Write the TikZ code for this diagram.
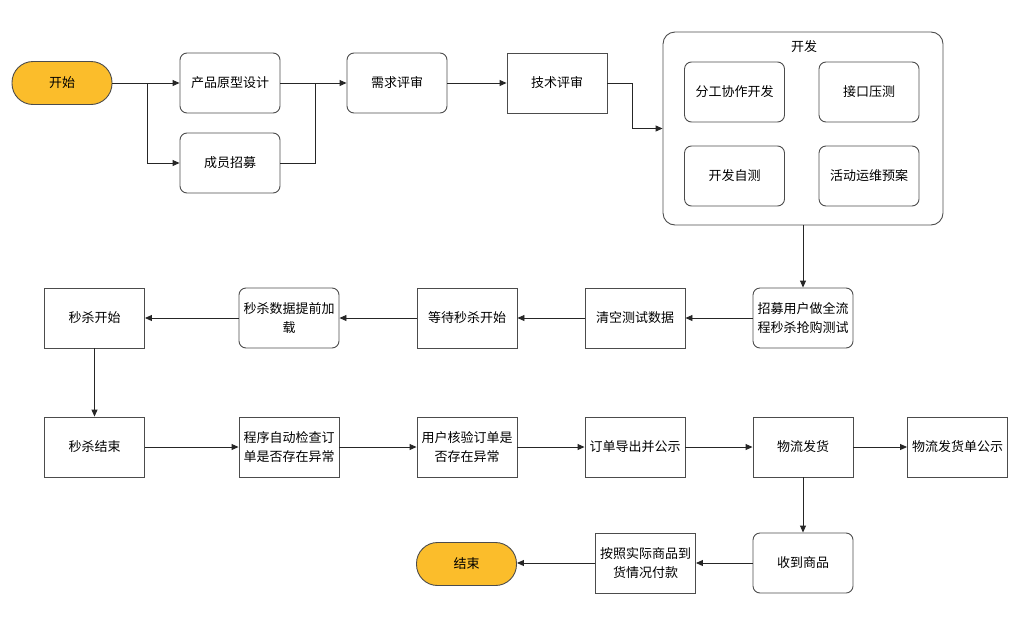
\documentclass[tikz,border=0pt]{standalone}
\usepackage{fontspec}
\setmainfont{Noto Sans CJK SC}
\usetikzlibrary{arrows.meta}

\definecolor{termfill}{HTML}{FBBD2B}
\tikzset{
  box/.style={draw=black!70,line width=0.9pt,minimum width=100pt,minimum height=60pt,
    inner sep=1pt,align=center,font=\fontsize{13}{19}\selectfont},
  rbox/.style={box,rounded corners=7pt},
  term/.style={box,rounded corners=21pt,fill=termfill,minimum height=43pt},
  link/.style={draw=black!85,line width=0.9pt,-{Triangle[length=7pt,width=6pt]}},
  plain/.style={draw=black!85,line width=0.9pt},
}

\begin{document}
\begin{tikzpicture}[x=1pt,y=-1pt]
\useasboundingbox (0,0) rectangle (1030,624);
% top row
\node[term] (start) at (62,83) {开始};
\node[rbox] (proto) at (230,83) {产品原型设计};
\node[rbox] (hire) at (230,163) {成员招募};
\node[rbox] (req) at (397,83) {需求评审};
\node[box] (tech) at (557,83) {技术评审};
% dev group
\node[rbox,minimum width=280pt,minimum height=193pt,rounded corners=12pt] (dev) at (803,128.5) {};
\node[font=\fontsize{13}{19}\selectfont] (devtitle) at (804,47) {开发};
\node[rbox] (coop) at (734.5,92) {分工协作开发};
\node[rbox] (load) at (869,92) {接口压测};
\node[rbox] (self) at (734.5,176) {开发自测};
\node[rbox] (ops) at (869,176) {活动运维预案};
% second row
\node[rbox] (trial) at (803,318) {招募用户做全流\\程秒杀抢购测试};
\node[box] (clear) at (635,318) {清空测试数据};
\node[box] (wait) at (467,318) {等待秒杀开始};
\node[rbox] (preload) at (289,318) {秒杀数据提前加\\载};
\node[box] (skstart) at (94.5,318) {秒杀开始};
% third row
\node[box] (skend) at (94.5,447) {秒杀结束};
\node[box] (autochk) at (289,447) {程序自动检查订\\单是否存在异常};
\node[box] (userchk) at (467,447) {用户核验订单是\\否存在异常};
\node[box] (export) at (635,447) {订单导出并公示};
\node[box] (ship) at (803,447) {物流发货};
\node[box] (shiplist) at (957.5,447) {物流发货单公示};
% bottom row
\node[rbox] (recv) at (803,563) {收到商品};
\node[box] (pay) at (645.5,563) {按照实际商品到\\货情况付款};
\node[term] (stop) at (466.5,564) {结束};

\coordinate (split) at (147,83);
\coordinate (merge) at (315,83);
\coordinate (bend) at (632,83);

\draw[link] (start) -- (proto);
\draw[link] (split) |- (hire.west);
\draw[plain] (hire.east) -| (merge);
\draw[link] (proto) -- (req);
\draw[link] (req) -- (tech);
\draw[link] (tech.east) -- (bend) |- (dev.west);
\draw[link] (dev.south) -- (trial.north);
\draw[link] (trial) -- (clear);
\draw[link] (clear) -- (wait);
\draw[link] (wait) -- (preload);
\draw[link] (preload) -- (skstart);
\draw[link] (skstart) -- (skend);
\draw[link] (skend) -- (autochk);
\draw[link] (autochk) -- (userchk);
\draw[link] (userchk) -- (export);
\draw[link] (export) -- (ship);
\draw[link] (ship) -- (shiplist);
\draw[link] (ship) -- (recv);
\draw[link] (recv) -- (pay);
\draw[link] (pay.west) -- (stop.east |- pay.west);
\end{tikzpicture}
\end{document}
